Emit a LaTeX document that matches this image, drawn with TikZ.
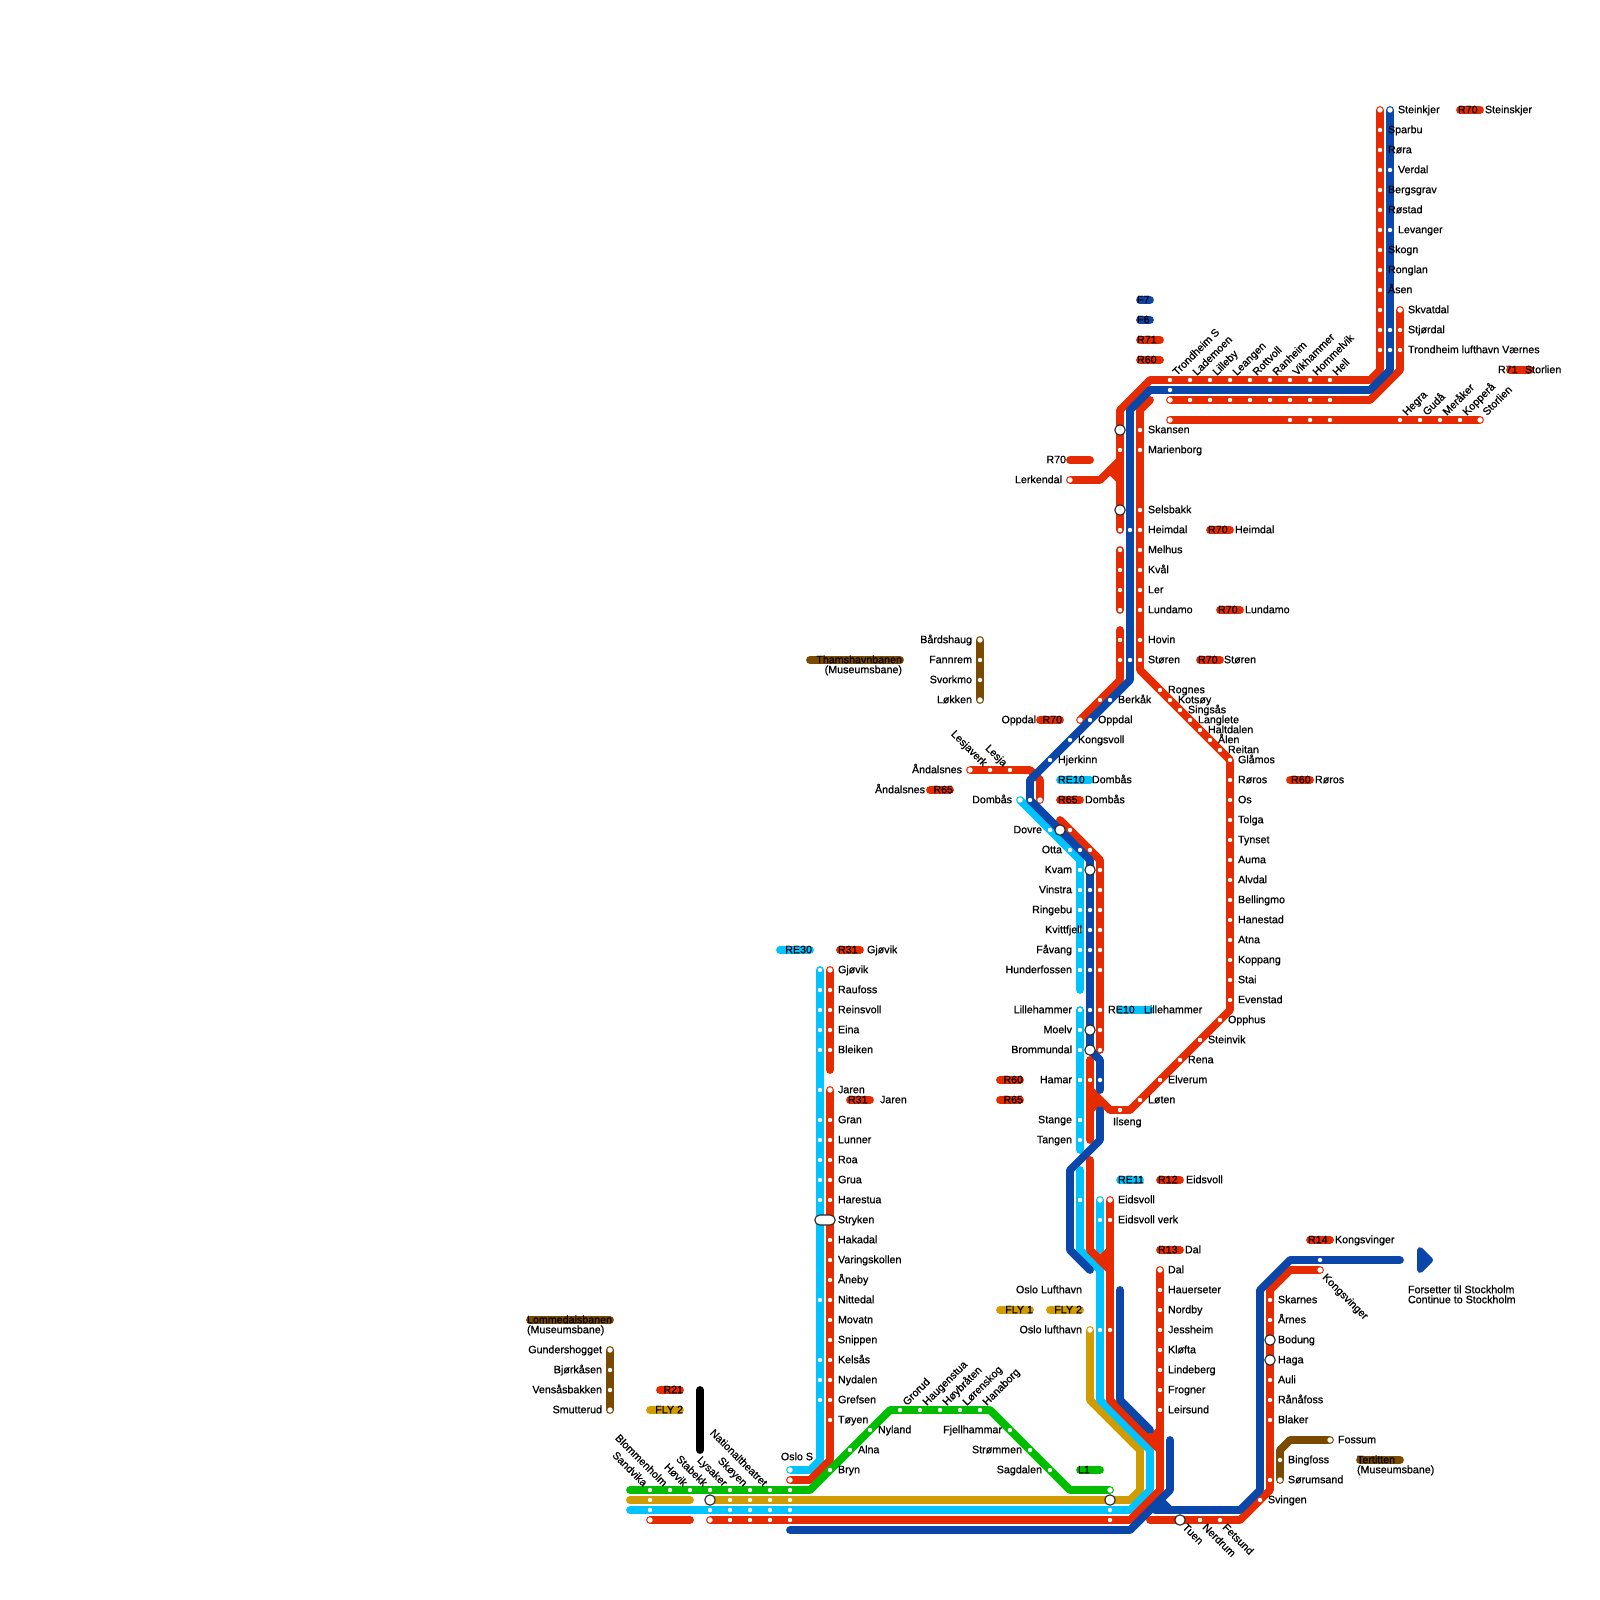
\documentclass[tikz,border=0pt]{standalone}
\usepackage{fontspec}
\newfontfamily\mapfont[RawFeature={embolden=0.7}]{Liberation Sans}
\definecolor{cred}{HTML}{E62B00}
\definecolor{cblue}{HTML}{0A47A9}
\definecolor{clight}{HTML}{00C3FF}
\definecolor{cgreen}{HTML}{00BD00}
\definecolor{cgold}{HTML}{D09C00}
\definecolor{cbrown}{HTML}{7A4A00}
\tikzset{
  track/.style={line width=3.9pt,line cap=round,line join=round},
  rd/.style={track,draw=cred},
  bl/.style={track,draw=cblue},
  lt/.style={track,draw=clight},
  gr/.style={track,draw=cgreen},
  gd/.style={track,draw=cgold},
  br/.style={track,draw=cbrown},
  bk/.style={track,draw=black},
  dot/.style={circle,fill=white,inner sep=0pt,minimum size=2.2pt},
  term/.style={circle,fill=white,inner sep=0pt,minimum size=2.7pt},
  inter/.style={circle,fill=white,draw=black!85,line width=.55pt,inner sep=0pt,minimum size=5.2pt},
  lab/.style={inner sep=0pt,outer sep=0pt,font=\mapfont\fontsize{5.35}{5}\selectfont,text=black},
}
\newcounter{lbc}
\newcommand\labr[3]{\stepcounter{lbc}\node[lab,anchor=base west,yshift=-1.6pt] (L\thelbc) at (#1,#2) {#3};}
\newcommand\labl[3]{\stepcounter{lbc}\node[lab,anchor=base east,yshift=-1.6pt] (L\thelbc) at (#1,#2) {#3};}
\newcommand\labup[3]{\stepcounter{lbc}\node[lab,anchor=mid west,rotate=45] (L\thelbc) at (#1+4,#2-7) {#3};}
\newcommand\labdn[3]{\stepcounter{lbc}\node[lab,anchor=mid east,rotate=-45] (L\thelbc) at (#1-4,#2-6) {#3};}
\newcommand\labdr[3]{\stepcounter{lbc}\node[lab,anchor=mid west,rotate=-45] (L\thelbc) at (#1+5,#2+5) {#3};}
\newcommand\metroline[2]{%
  \gdef\mlpath{}\gdef\mlsep{}%
  \foreach \x/\y in {#2}{\coordinate (p\x-\y) at (\x,\y);\xdef\mlpath{\mlpath\mlsep(p\x-\y)}\gdef\mlsep{--}}%
  \edef\mltmp{\noexpand\draw[#1] \mlpath;}\mltmp}
\begin{document}
\begin{tikzpicture}[x=.5pt,y=-.5pt]
\useasboundingbox (0,0) rectangle (1600,1600);
% brown
\metroline{br}{980/640,980/700}
\metroline{br}{810/660,900/660}
\metroline{br}{610/1350,610/1410}
\metroline{br}{530/1320,610/1320}
\metroline{br}{1280/1480,1280/1450,1290/1440,1330/1440}
\metroline{br}{1360/1460,1400/1460}
% gold
\metroline{gd}{1090/1330,1090/1400,1140/1450,1140/1490,1130/1500,710/1500}
\metroline{gd}{630/1500,690/1500}
\metroline{gd}{1000/1310,1030/1310}
\metroline{gd}{1050/1310,1080/1310}
\metroline{gd}{650/1410,680/1410}
% light blue
\metroline{lt}{820/970,820/1460,810/1470,790/1470}
\metroline{lt}{1020/800,1080/860,1080/990}
\metroline{lt}{1080/1010,1080/1150}
\metroline{lt}{1080/1170,1080/1250,1100/1270,1100/1400,1150/1450,1150/1490,1130/1510,630/1510}
\metroline{lt}{1100/1200,1100/1250}
\metroline{lt}{780/950,810/950}
\metroline{lt}{1060/780,1090/780}
\metroline{lt}{1120/1010,1150/1010}
\metroline{lt}{1120/1180,1140/1180}
% red
\metroline{rd}{830/970,830/1070}
\metroline{rd}{830/1090,830/1460,810/1480,790/1480}
\metroline{rd}{650/1520,690/1520}
\metroline{rd}{1380/110,1380/370,1370/380,1150/380,1120/410,1120/530}
\metroline{rd}{1400/310,1400/370,1370/400,1170/400}
\metroline{rd}{1170/420,1480/420}
\metroline{rd}{1070/480,1100/480,1120/460}
\metroline{rd}{1110/470,1120/480}
\metroline{rd}{1120/550,1120/610}
\metroline{rd}{1120/630,1120/680,1080/720}
\metroline{rd}{970/770,1030/770,1040/780,1040/800}
\metroline{rd}{1060/820,1100/860,1100/1050}
\metroline{rd}{1090/1060,1090/1140}
\metroline{rd}{1090/1110,1100/1100}
\metroline{rd}{1090/1090,1110/1110,1130/1110,1230/1010,1230/760,1140/670,1140/410,1150/400}
\metroline{rd}{1090/1160,1090/1250,1110/1270}
\metroline{rd}{1100/1260,1110/1250}
\metroline{rd}{1110/1200,1110/1400,1160/1450,1160/1490,1130/1520,710/1520}
\metroline{rd}{1160/1270,1160/1450}
\metroline{rd}{1150/1440,1160/1430}
\metroline{rd}{1150/1520,1240/1520,1270/1490,1270/1290,1290/1270,1320/1270}
\metroline{rd}{1140/340,1160/340}
\metroline{rd}{1140/360,1160/360}
\metroline{rd}{1460/110,1480/110}
\metroline{rd}{1510/370,1530/370}
\metroline{rd}{1070/460,1090/460}
\metroline{rd}{1210/530,1230/530}
\metroline{rd}{1220/610,1240/610}
\metroline{rd}{1200/660,1220/660}
\metroline{rd}{1040/720,1060/720}
\metroline{rd}{1060/800,1080/800}
\metroline{rd}{930/790,950/790}
\metroline{rd}{840/950,860/950}
\metroline{rd}{850/1100,870/1100}
\metroline{rd}{1000/1080,1020/1080}
\metroline{rd}{1000/1100,1020/1100}
\metroline{rd}{1160/1180,1180/1180}
\metroline{rd}{1160/1250,1180/1250}
\metroline{rd}{1310/1240,1330/1240}
\metroline{rd}{660/1390,680/1390}
\metroline{rd}{1290/780,1310/780}
% green
\metroline{gr}{630/1490,810/1490,890/1410,990/1410,1070/1490,1110/1490}
\metroline{gr}{1080/1470,1100/1470}
% blue
\metroline{bl}{1390/110,1390/370,1370/390,1150/390,1130/410,1130/680,1030/780,1030/800,1090/860,1090/1050,1100/1060,1100/1090}
\metroline{bl}{1100/1110,1100/1140,1070/1170,1070/1250,1090/1270}
\metroline{bl}{1120/1290,1120/1400,1150/1430}
\metroline{bl}{1170/1440,1170/1490,1130/1530,790/1530}
\metroline{bl}{1155/1510,1240/1510,1260/1490,1260/1290,1290/1260,1400/1260}
\metroline{bl}{1160/1500,1170/1510}
\metroline{bl}{1140/300,1150/300}
\metroline{bl}{1140/320,1150/320}
% black
\metroline{bk}{700/1390,700/1450}
% arrow
\coordinate (ah1) at (1420,1250);\coordinate (ah2) at (1420,1270);\coordinate (ah3) at (1430,1260);
\filldraw[draw=cblue,fill=cblue,line width=3pt,line join=round] (ah1) -- (ah2) -- (ah3) -- cycle;
% station dots
\foreach \x/\y in {
1380/130,1380/150,1380/170,1380/190,1380/210,1380/230,1380/250,1380/270,1380/290,1380/310,1380/330,1380/350,
1390/170,1390/230,1390/330,1390/350,1400/330,1400/350,
1170/380,1190/380,1210/380,1230/380,1250/380,1270/380,1290/380,1310/380,1330/380,1170/390,
1190/400,1210/400,1230/400,1250/400,1270/400,1290/400,1310/400,1330/400,
1290/420,1310/420,1330/420,1400/420,1420/420,1440/420,1460/420,
1120/450,1120/530,1120/550,1120/570,1120/590,1120/610,1120/640,1120/660,1100/700,
1130/530,1130/660,
1140/430,1140/450,1140/510,1140/530,1140/550,1140/570,1140/590,1140/610,1140/640,1140/660,
1160/690,1170/700,1180/710,1190/720,1200/730,1210/740,1220/750,
1230/760,1230/780,1230/800,1230/820,1230/840,1230/860,1230/880,1230/900,1230/920,1230/940,1230/960,1230/980,1230/1000,
1220/1020,1200/1040,1180/1060,1160/1080,1140/1100,1120/1110,
1110/700,1090/720,1070/740,1050/760,1030/800,1010/770,990/770,
1050/830,1070/850,1070/830,1080/850,1090/850,
1080/870,1080/890,1080/910,1080/930,1080/950,1080/970,1080/1010,1080/1030,1080/1050,1080/1080,1080/1120,1080/1140,1080/1200,
1090/890,1090/910,1090/930,1090/950,1090/970,1090/1010,1090/1080,1100/1080,
1100/870,1100/890,1100/910,1100/930,1100/950,1100/970,1100/1010,1100/1030,1100/1050,
1100/1220,1110/1220,1100/1330,1110/1330,
1160/1290,1160/1310,1160/1330,1160/1350,1160/1370,1160/1390,1160/1410,
1270/1300,1270/1320,1270/1380,1270/1400,1270/1420,1270/1480,1260/1500,1200/1520,1220/1520,1320/1260,
1280/1460,980/660,980/680,610/1370,610/1390,
830/990,830/1010,830/1030,830/1050,830/1120,830/1140,830/1160,830/1180,830/1200,830/1240,830/1260,830/1280,830/1300,830/1320,830/1340,830/1360,830/1380,830/1400,830/1420,
820/970,820/990,820/1010,820/1030,820/1050,820/1090,820/1120,820/1140,820/1160,820/1180,820/1200,820/1300,820/1360,820/1380,820/1400,
830/1470,850/1450,870/1430,900/1410,920/1410,940/1410,960/1410,980/1410,1010/1430,1030/1450,1050/1470,
650/1490,670/1490,690/1490,710/1490,730/1490,750/1490,770/1490,790/1490,
650/1500,730/1500,750/1500,770/1500,790/1500,
650/1510,710/1510,730/1510,750/1510,770/1510,790/1510,1110/1510,
730/1520,750/1520,770/1520,790/1520,1110/1520}
{\node[dot] (s\x-\y) at (\x,\y) {};}
% terminal stations
\foreach \x/\y in {1380/110,1390/110,1400/310,1170/400,1170/420,1480/420,1070/480,1080/720,970/770,1040/800,1020/800,
1100/1200,1110/1200,1160/1270,1320/1270,1090/1330,1110/1490,830/970,830/1090,790/1470,790/1480,650/1520,710/1520,
980/640,980/700,610/1350,610/1410,1330/1440,1280/1480}
{\node[term] (t\x-\y) at (\x,\y) {};}
% interchanges
\foreach \x/\y in {1120/430,1120/510,1060/830,1090/870,1090/1030,1090/1050,1270/1340,1270/1360,1180/1520,710/1500,1110/1500}
{\node[inter] (i\x-\y) at (\x,\y) {};}
\node[inter,rounded corners=2.5pt,rectangle,minimum width=10.2pt,minimum height=5pt] (stryken) at (825,1220) {};
% labels
\foreach \y/\nm in {430/Skansen,450/Marienborg,510/Selsbakk,530/Heimdal,550/Melhus,570/Kvål,590/Ler,610/Lundamo,640/Hovin,660/Støren}{\labr{1148}{\y}{\nm}}
\foreach \y/\nm in {110/Steinkjer,170/Verdal,230/Levanger}{\labr{1398}{\y}{\nm}}
\foreach \y/\nm in {130/Sparbu,150/Røra,190/Bergsgrav,210/Røstad,250/Skogn,270/Ronglan,290/Åsen}{\labr{1388}{\y}{\nm}}
\foreach \y/\nm in {310/Skvatdal,330/Stjørdal,350/Trondheim lufthavn Værnes}{\labr{1408}{\y}{\nm}}
\foreach \x/\nm in {1170/Trondheim S,1190/Lademoen,1210/Lilleby,1230/Leangen,1250/Rottvoll,1270/Ranheim,1290/Vikhammer,1310/Hommelvik,1330/Hell,1400/Hegra,1420/Gudå,1440/Meråker,1460/Kopperå,1480/Storlien}{
  \ifnum\x<1400 \labup{\x}{380}{\nm}\else \labup{\x}{420}{\nm}\fi}
\foreach \x/\y/\nm in {1168/690/Rognes,1178/700/Kotsøy,1188/710/Singsås,1198/720/Langlete,1208/730/Haltdalen,1218/740/Ålen,1228/750/Reitan,
1228/1020/Opphus,1208/1040/Steinvik,1188/1060/Rena,1168/1080/Elverum,1148/1100/Løten,1113/1122/Ilseng,
1118/700/Berkåk,1098/720/Oppdal,1078/740/Kongsvoll,1058/760/Hjerkinn,
1118/1200/Eidsvoll,1118/1220/Eidsvoll verk,
1338/1440/Fossum,1288/1460/Bingfoss,1288/1480/Sørumsand,1268/1500/Svingen,
858/1450/Alna,878/1430/Nyland,838/1470/Bryn,
1092/780/Dombås,1085/800/Dombås,1144/1010/Lillehammer,1186/1180/Eidsvoll,1185/1250/Dal,1335/1240/Kongsvinger,
1485/110/Steinskjer,1525/370/Storlien,1235/530/Heimdal,1245/610/Lundamo,1224/660/Støren,867/950/Gjøvik,880/1100/Jaren,1315/780/Røros}
{\labr{\x}{\y}{\nm}}
\foreach \y/\nm in {760/Glåmos,780/Røros,800/Os,820/Tolga,840/Tynset,860/Auma,880/Alvdal,900/Bellingmo,920/Hanestad,940/Atna,960/Koppang,980/Stai,1000/Evenstad}{\labr{1238}{\y}{\nm}}
\foreach \y/\nm in {1270/Dal,1290/Hauerseter,1310/Nordby,1330/Jessheim,1350/Kløfta,1370/Lindeberg,1390/Frogner,1410/Leirsund}{\labr{1168}{\y}{\nm}}
\foreach \y/\nm in {1300/Skarnes,1320/Årnes,1340/Bodung,1360/Haga,1380/Auli,1400/Rånåfoss,1420/Blaker}{\labr{1278}{\y}{\nm}}
\foreach \y/\nm in {970/Gjøvik,990/Raufoss,1010/Reinsvoll,1030/Eina,1050/Bleiken,1090/Jaren,1120/Gran,1140/Lunner,1160/Roa,1180/Grua,1200/Harestua,1220/Stryken,1240/Hakadal,1260/Varingskollen,1280/Åneby,1300/Nittedal,1320/Movatn,1340/Snippen,1360/Kelsås,1380/Nydalen,1400/Grefsen,1420/Tøyen}{\labr{838}{\y}{\nm}}
\foreach \y/\nm in {870/Kvam,890/Vinstra,910/Ringebu,950/Fåvang,970/Hunderfossen,1010/Lillehammer,1030/Moelv,1050/Brommundal,1080/Hamar,1120/Stange,1140/Tangen}{\labl{1072}{\y}{\nm}}
\foreach \x/\y/\nm in {1082/930/Kvittfjell,1012/800/Dombås,1042/830/Dovre,1062/850/Otta,1036/720/Oppdal,962/770/Åndalsnes,925/790/Åndalsnes,
972/640/Bårdshaug,972/660/Fannrem,972/680/Svorkmo,972/700/Løkken,
602/1350/Gundershogget,602/1370/Bjørkåsen,602/1390/Vensåsbakken,602/1410/Smutterud,
813/1457/Oslo S,1002/1430/Fjellhammar,1022/1450/Strømmen,1042/1470/Sagdalen,
1082/1290/Oslo Lufthavn,1082/1330/Oslo lufthavn,1066/460/R70,1062/480/Lerkendal,
902/670/(Museumsbane),902/660/Thamshavnbanen}
{\labl{\x}{\y}{\nm}}
\foreach \x/\nm in {990/Lesjaverk,1010/Lesja}{\labdn{\x}{770}{\nm}}
\foreach \x/\nm in {650/Sandvika,670/Blommenholm,690/Høvik,710/Stabekk,730/Lysaker,750/Skøyen,770/Nationaltheatret}{\labdn{\x}{1490}{\nm}}
\foreach \x/\nm in {900/Grorud,920/Haugenstua,940/Høybråten,960/Lørenskog,980/Hanaborg}{\labup{\x}{1410}{\nm}}
\foreach \x/\nm in {1180/Tuen,1200/Nerdrum,1220/Fetsund}{\labdr{\x}{1520}{\nm}}
\labdr{1320}{1270}{Kongsvinger}
% pill legends
\foreach \x/\y/\nm in {1137/300/F7,1137/320/F6,1137/340/R71,1137/360/R60,1458/110/R70,1208/530/R70,1218/610/R70,1198/660/R70,
1058/780/RE10,1058/800/R65,838/950/R31,848/1100/R31,1118/1180/RE11,1158/1180/R12,1158/1250/R13,1308/1240/R14,1078/1470/L1,1108/1010/RE10,
1498/370/R71,1291/780/R60}{\labr{\x}{\y}{\nm}}
\foreach \x/\y/\nm in {1062/720/R70,953/790/R65,812/950/RE30,1023/1080/R60,1023/1100/R65,1033/1310/FLY 1,1082/1310/FLY 2,683/1390/R21,683/1410/FLY 2}{\labl{\x}{\y}{\nm}}
\labr{527}{1320}{Lommedalsbanen}
\labr{527}{1330}{(Museumsbane)}
\labr{1357}{1460}{Tertitten}
\labr{1357}{1470}{(Museumsbane)}
\labr{1408}{1290}{Forsetter til Stockholm}
\labr{1408}{1300}{Continue to Stockholm}
\end{tikzpicture}
\end{document}
